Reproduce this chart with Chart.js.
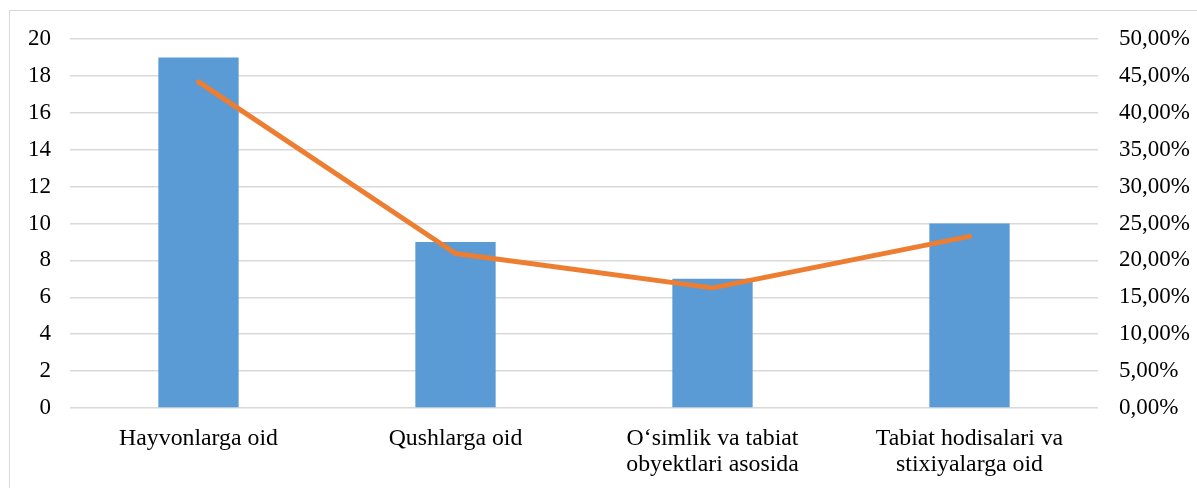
<!DOCTYPE html>
<html>
<head>
<meta charset="utf-8">
<script src="https://cdn.jsdelivr.net/npm/chart.js@4/dist/chart.umd.min.js"></script>
<style>
  html, body { margin: 0; padding: 0; background: #fff; overflow: hidden; }
  #frame { position: absolute; left: 9px; top: 10px; width: 1200px; height: 490px;
           border-left: 1px solid #d9d9d9; border-top: 1px solid #d9d9d9; }
  #c { position: absolute; left: 0; top: 0; }
</style>
</head>
<body>
<div id="frame"></div>
<canvas id="c" width="1197" height="488"></canvas>
<script>
const categories = [
  ["Hayvonlarga oid"],
  ["Qushlarga oid"],
  ["O‘simlik va tabiat", "obyektlari asosida"],
  ["Tabiat hodisalari va", "stixiyalarga oid"]
];
const counts = [19, 9, 7, 10];
const percents = [44.19, 20.93, 16.28, 23.26];
const leftTicks = [0, 2, 4, 6, 8, 10, 12, 14, 16, 18, 20];
const rightTicks = [0, 5, 10, 15, 20, 25, 30, 35, 40, 45, 50];

const family = "'Liberation Serif', 'Times New Roman', serif";
const axisFont = { family: family, size: 23, lineHeight: 1.13 };
const catFont = { family: family, size: 23.8, lineHeight: 26 / 23.8 };

new Chart(document.getElementById('c'), {
  data: {
    labels: categories,
    datasets: [
      {
        type: 'line',
        data: percents,
        yAxisID: 'y1',
        borderColor: '#ED7D31',
        backgroundColor: '#ED7D31',
        borderWidth: 5,
        borderCapStyle: 'round',
        borderJoinStyle: 'round',
        pointRadius: 0,
        tension: 0,
        order: 0
      },
      {
        type: 'bar',
        data: counts,
        yAxisID: 'y',
        backgroundColor: '#5B9BD5',
        borderWidth: 0,
        categoryPercentage: 1,
        barPercentage: 0.3125,
        order: 1
      }
    ]
  },
  options: {
    responsive: false,
    animation: false,
    layout: { padding: { top: 39, bottom: 0, left: 0, right: 0 } },
    plugins: { legend: { display: false }, tooltip: { enabled: false } },
    scales: {
      x: {
        grid: { display: false, drawTicks: false },
        border: { display: false },
        ticks: { font: catFont, color: '#000', padding: 18, maxRotation: 0, autoSkip: false },
        afterFit: s => { s.height = 80; }
      },
      y: {
        position: 'left',
        min: 0, max: 20,
        afterBuildTicks: s => { s.ticks = leftTicks.map(v => ({ value: v })); },
        grid: { color: '#d9d9d9', lineWidth: 1.5, drawTicks: false },
        border: { display: false },
        ticks: { font: axisFont, color: '#000', padding: 19 },
        afterFit: s => { s.width = 70; }
      },
      y1: {
        position: 'right',
        min: 0, max: 50,
        afterBuildTicks: s => { s.ticks = rightTicks.map(v => ({ value: v })); },
        grid: { display: false, drawTicks: false },
        border: { display: false },
        ticks: { font: axisFont, color: '#000', padding: 21,
                 callback: v => v.toFixed(2).replace('.', ',') + '%' },
        afterFit: s => { s.width = 99; }
      }
    }
  }
});
</script>
</body>
</html>
